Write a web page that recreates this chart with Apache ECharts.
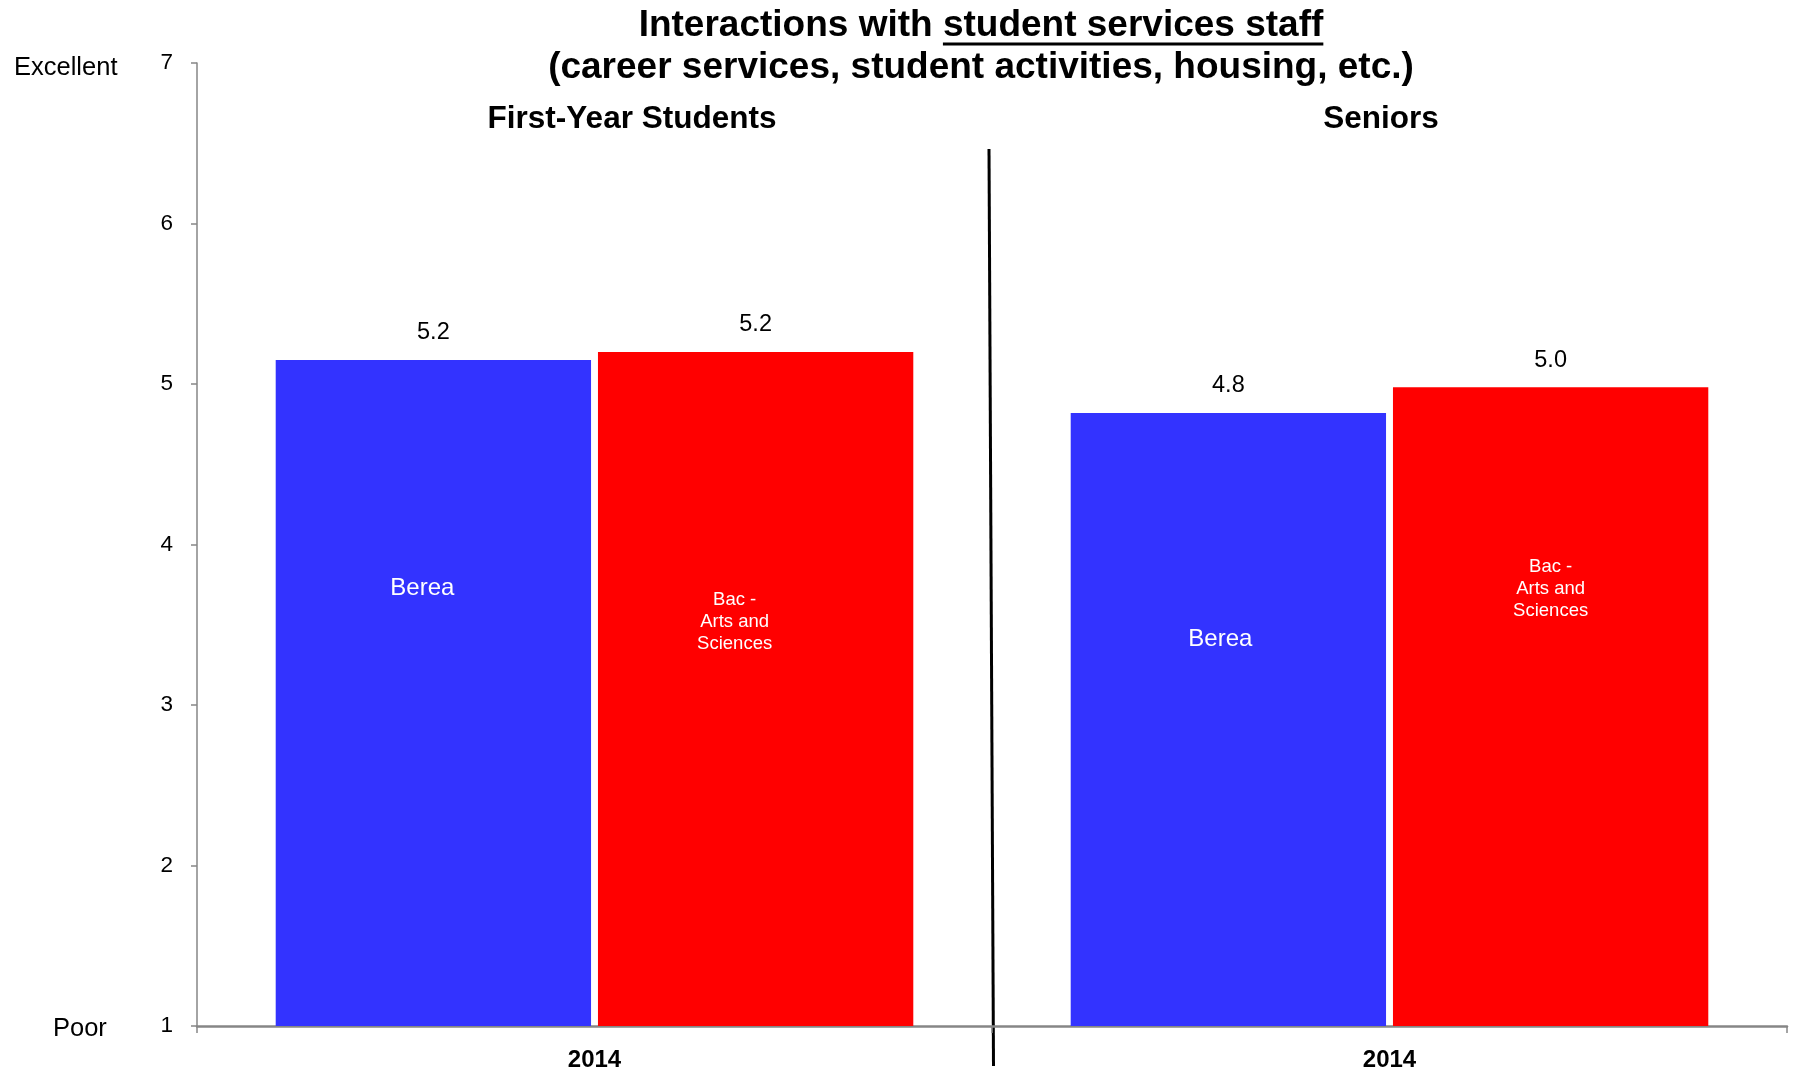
<!DOCTYPE html>
<html><head><meta charset="utf-8">
<script src="https://cdn.jsdelivr.net/npm/echarts@6/dist/echarts.min.js"></script>
<style>html,body{margin:0;padding:0;background:#fff}#c{width:1793px;height:1075px}</style>
</head><body><div id="c"></div>
<script>
// ---- data ----
const groups = ['First-Year Students', 'Seniors'];
const tickLabels = ['2014', '2014'];
const seriesNames = ['Berea', 'Bac -\nArts and\nSciences'];
const bereaValues = [5.15, 4.82];
const bacValues = [5.20, 4.98];
const scaleNames = { top: 'Excellent', bottom: 'Poor' };
const titlePlain = 'Interactions with ';
const titleUnderlined = 'student services staff';
const titleLine2 = '(career services, student activities, housing, etc.)';

// ---- layout / style ----
const FONT = "'Liberation Sans', Arial, sans-serif";
const BLUE = '#3333FF', RED = '#FF0000', AXIS = '#868686';
const nameOffsets = [[[-11, -105], [-8, -80]], [[-21, -67], [0, -118]]];

const chart = echarts.init(document.getElementById('c'));
const barCommon = { barGap: '2.2%', barCategoryGap: '19.8%' };

function valueSeries(name, vals, color) {
  return Object.assign({
    type: 'bar', name: name, xAxisIndex: 0, data: vals,
    itemStyle: { color: color },
    label: { show: true, position: 'top', distance: 15, color: '#000',
      fontFamily: FONT, fontSize: 23.5, formatter: p => p.value.toFixed(1) }
  }, barCommon);
}
function nameSeries(si, vals) {
  return Object.assign({
    type: 'bar', name: seriesNames[si] + '_lbl', xAxisIndex: 1, silent: true,
    itemStyle: { color: 'rgba(0,0,0,0)' },
    data: vals.map((v, i) => ({ value: v, label: { offset: nameOffsets[si][i] } })),
    label: { show: true, position: 'inside', color: '#fff', fontFamily: FONT,
      fontSize: si === 0 ? 24 : 18.5, lineHeight: 22,
      formatter: () => seriesNames[si] }
  }, barCommon);
}

const titleCX = 981;
chart.setOption({
  animation: false,
  title: [
    { text: titlePlain + titleUnderlined + '\n' + titleLine2, left: titleCX, top: 5, textAlign: 'center', padding: 0,
      textStyle: { fontFamily: FONT, fontWeight: 'bold', fontSize: 37, lineHeight: 42, color: '#000' } },
    { text: groups[0], left: 632, top: 103, textAlign: 'center', padding: 0,
      textStyle: { fontFamily: FONT, fontWeight: 'bold', fontSize: 31.5, color: '#000' } },
    { text: groups[1], left: 1381, top: 103, textAlign: 'center', padding: 0,
      textStyle: { fontFamily: FONT, fontWeight: 'bold', fontSize: 31.5, color: '#000' } }
  ],
  grid: { left: 197, right: 6, top: 63, bottom: 49, containLabel: false },
  xAxis: [
    { type: 'category', data: groups,
      axisLine: { lineStyle: { color: AXIS, width: 2.5 } },
      axisTick: { show: true, length: 7, lineStyle: { color: AXIS, width: 1.5 } },
      axisLabel: { margin: 22, fontFamily: FONT, fontWeight: 'bold', fontSize: 24, color: '#000',
        formatter: (v, i) => tickLabels[i] } },
    { type: 'category', data: groups, show: false }
  ],
  yAxis: {
    type: 'value', min: 1, max: 7, interval: 1,
    splitLine: { show: false },
    axisLine: { show: true, lineStyle: { color: AXIS, width: 1.5 } },
    axisTick: { show: true, length: 6, lineStyle: { color: AXIS, width: 1.5 } },
    axisLabel: { margin: 24, fontFamily: FONT, fontSize: 22.5, color: '#000' }
  },
  series: [
    valueSeries(seriesNames[0], bereaValues, BLUE),
    valueSeries(seriesNames[1], bacValues, RED),
    nameSeries(0, bereaValues),
    nameSeries(1, bacValues)
  ]
});

// decorations: scale names, divider, title underline
const ctx = document.createElement('canvas').getContext('2d');
ctx.font = "bold 37px 'Liberation Sans'";
const wAll = ctx.measureText(titlePlain + titleUnderlined).width;
const wPlain = ctx.measureText(titlePlain).width;
const ulX1 = titleCX - wAll / 2 + wPlain, ulX2 = titleCX + wAll / 2;

const yTop = chart.convertToPixel({ yAxisIndex: 0 }, 7);
const yBot = chart.convertToPixel({ yAxisIndex: 0 }, 1);
const c0 = chart.convertToPixel({ xAxisIndex: 0 }, 0);
const c1 = chart.convertToPixel({ xAxisIndex: 0 }, 1);
const bx = (c0 + c1) / 2;

chart.setOption({
  graphic: [
    { type: 'text', left: 14, top: yTop - 8, style: { text: scaleNames.top, fontFamily: FONT, fontSize: 25.5, fill: '#000' } },
    { type: 'text', left: 53, top: yBot - 10, style: { text: scaleNames.bottom, fontFamily: FONT, fontSize: 25.5, fill: '#000' } },
    { type: 'line', shape: { x1: bx - 3, y1: 149, x2: bx + 1.5, y2: 1066 }, style: { stroke: '#000', lineWidth: 3 } },
    { type: 'line', shape: { x1: ulX1, y1: 44, x2: ulX2, y2: 44 }, style: { stroke: '#000', lineWidth: 3 } }
  ]
});
</script></body></html>
